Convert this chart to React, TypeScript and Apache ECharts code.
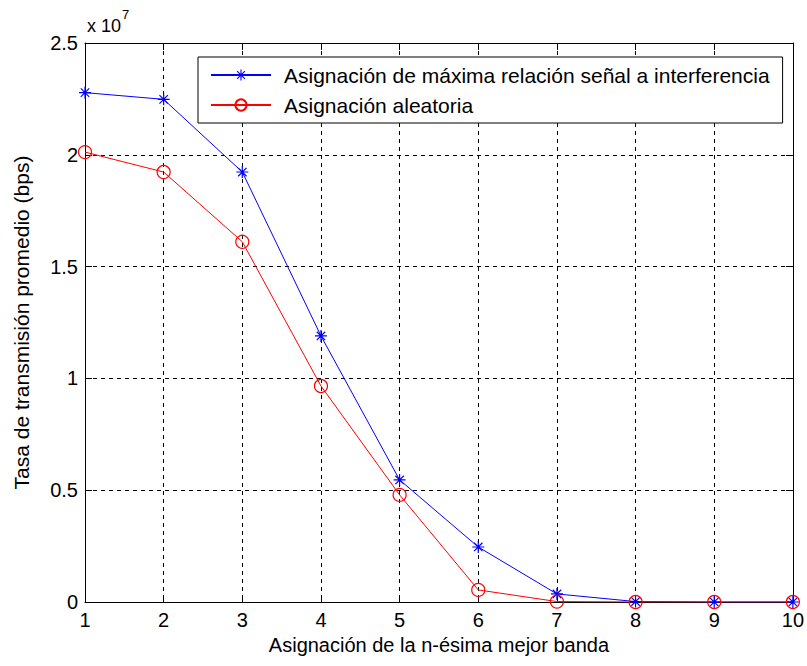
import React, { useEffect, useRef } from "react";
import * as echarts from "echarts";

const categories = [1, 2, 3, 4, 5, 6, 7, 8, 9, 10];
const maxSirValues = [22780000, 22480000, 19230000, 11900000, 5460000, 2460000, 360000, 20000, 0, 0];
const randomValues = [20120000, 19230000, 16110000, 9660000, 4790000, 540000, 20000, 0, 0, 0];
const yTicks = [0, 0.5, 1, 1.5, 2, 2.5];

const seriesNames = [
  "Asignación de máxima relación señal a interferencia",
  "Asignación aleatoria",
];

const FONT = "Liberation Sans";
const asteriskPath =
  "path://M0 45 H100 V55 H0 Z M45 0 H55 V100 H45 Z M18.5 11.5 L88.5 81.5 L81.5 88.5 L11.5 18.5 Z M81.5 11.5 L88.5 18.5 L18.5 88.5 L11.5 81.5 Z";

export default function App() {
  const ref = useRef<HTMLDivElement>(null);
  useEffect(() => {
    if (!ref.current) return;
    const chart = echarts.init(ref.current, undefined, { renderer: "svg" });
    const tickText = { color: "#000", fontFamily: FONT, fontSize: 20 };
    const blackLine = { lineStyle: { color: "#000", width: 1 } };
    chart.setOption({
      animation: false,
      backgroundColor: "#fff",
      textStyle: { fontFamily: FONT },
      grid: { left: 85, right: 13, top: 43, bottom: 64, containLabel: false },
      legend: {
        left: 198,
        top: 57,
        orient: "vertical",
        backgroundColor: "#fff",
        borderColor: "#000",
        borderWidth: 1,
        borderRadius: 0,
        padding: [6, 13, 6, 12],
        itemWidth: 60,
        itemHeight: 14,
        itemGap: 6,
        textStyle: {
          color: "#000",
          fontFamily: FONT,
          fontSize: 21,
          lineHeight: 24,
          padding: [0, 0, 0, 8],
        },
        data: seriesNames,
      },
      xAxis: [
        {
          type: "value",
          min: 1,
          max: 10,
          interval: 1,
          name: "Asignación de la n-ésima mejor banda",
          nameLocation: "middle",
          nameGap: 32,
          nameTextStyle: { color: "#000", fontFamily: FONT, fontSize: 20 },
          axisLine: { show: true, onZero: false, ...blackLine },
          axisTick: { show: true, inside: true, length: 7, ...blackLine },
          axisLabel: { ...tickText, margin: 8 },
          splitLine: { show: true, lineStyle: { color: "#000", width: 1, type: [4, 4] } },
        },
        {
          type: "value",
          position: "top",
          min: 1,
          max: 10,
          interval: 1,
          axisLine: { show: true, onZero: false, ...blackLine },
          axisTick: { show: true, inside: true, length: 7, ...blackLine },
          axisLabel: { show: false },
          splitLine: { show: false },
        },
      ],
      yAxis: [
        {
          type: "value",
          min: 0,
          max: 25000000,
          interval: 5000000,
          name: "Tasa de transmisión promedio (bps)",
          nameLocation: "middle",
          nameGap: 53,
          nameRotate: 90,
          nameTextStyle: { color: "#000", fontFamily: FONT, fontSize: 21 },
          axisLine: { show: true, onZero: false, ...blackLine },
          axisTick: { show: true, inside: true, length: 7, ...blackLine },
          axisLabel: {
            ...tickText,
            margin: 7,
            formatter: (v: number) => {
              const t = v / 1e7;
              const m = yTicks.find((y) => Math.abs(y - t) < 1e-9);
              return String(m !== undefined ? m : t);
            },
          },
          splitLine: { show: true, lineStyle: { color: "#000", width: 1, type: [4, 4] } },
        },
        {
          type: "value",
          position: "right",
          min: 0,
          max: 25000000,
          interval: 5000000,
          axisLine: { show: true, onZero: false, ...blackLine },
          axisTick: { show: true, inside: true, length: 7, ...blackLine },
          axisLabel: { show: false },
          splitLine: { show: false },
        },
      ],
      graphic: [
        {
          type: "text",
          left: 87,
          top: 8,
          style: {
            text: "{a|x 10}{b|7}",
            rich: {
              a: { fontFamily: FONT, fontSize: 18, fill: "#000", padding: [9, 0, 0, 0] },
              b: { fontFamily: FONT, fontSize: 13, fill: "#000", verticalAlign: "top", padding: [0, 0, 9, 1] },
            },
          },
        },
      ],
      series: [
        {
          name: seriesNames[0],
          type: "line",
          data: categories.map((c, i) => [c, maxSirValues[i]]),
          symbol: asteriskPath,
          symbolSize: 12,
          showAllSymbol: true,
          lineStyle: { color: "#0000ff", width: 1 },
          itemStyle: { color: "#0000ff" },
        },
        {
          name: seriesNames[1],
          type: "line",
          data: categories.map((c, i) => [c, randomValues[i]]),
          symbol: "circle",
          symbolSize: 13,
          showAllSymbol: true,
          lineStyle: { color: "#ff0000", width: 1 },
          itemStyle: { color: "rgba(0,0,0,0)", borderColor: "#ff0000", borderWidth: 1.2 },
        },
      ],
    });
    return () => chart.dispose();
  }, []);
  return (
    <div
      ref={ref}
      style={{ position: "absolute", left: 0, top: 0, width: 807, height: 666, background: "#fff" }}
    />
  );
}
